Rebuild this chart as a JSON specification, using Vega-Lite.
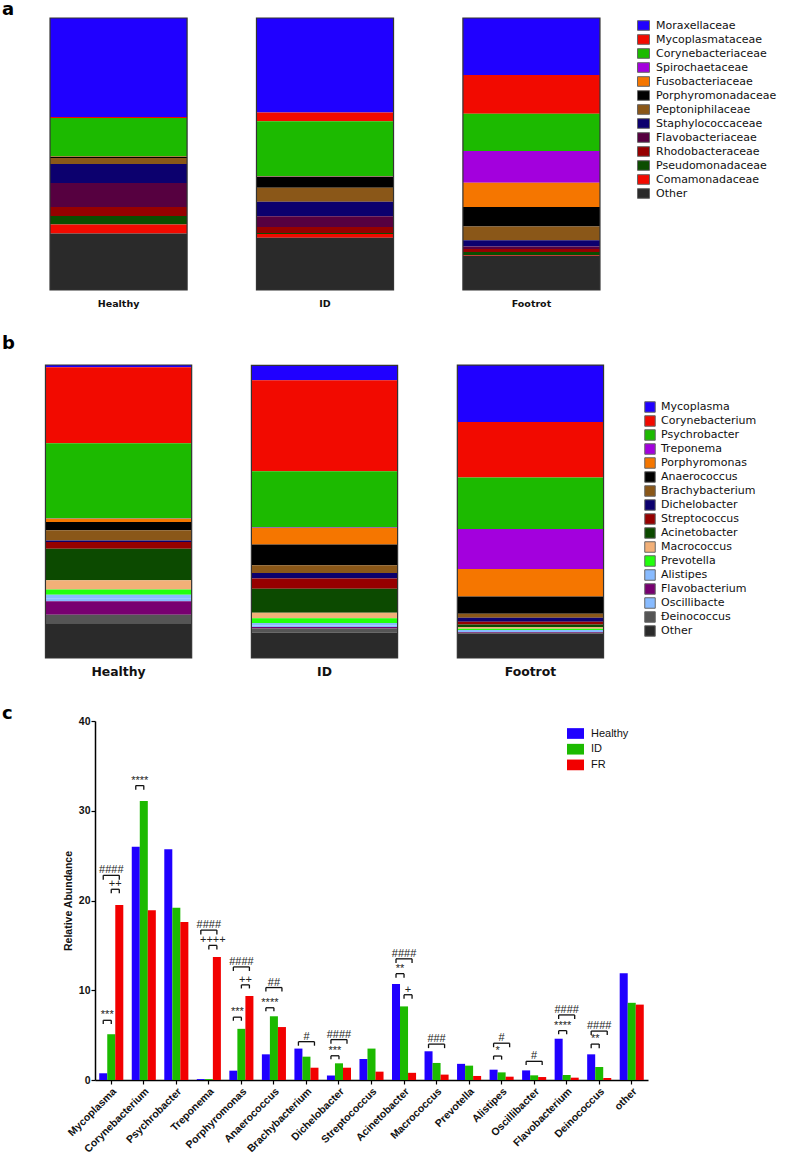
{
  "$schema": "https://vega.github.io/schema/vega-lite/v6.json",
  "background": "white",
  "padding": {"left": 2, "top": 1, "right": 0, "bottom": 0},
  "config": {"view": {"stroke": null}, "font": "DejaVu Sans"},
  "datasets": {
    "fam": [
      {"g": "Healthy", "t": "Moraxellaceae", "k": 1, "v": 36.4},
      {"g": "Healthy", "t": "Mycoplasmataceae", "k": 2, "v": 0.4},
      {"g": "Healthy", "t": "Corynebacteriaceae", "k": 3, "v": 14.0},
      {"g": "Healthy", "t": "Spirochaetaceae", "k": 4, "v": 0.05},
      {"g": "Healthy", "t": "Fusobacteriaceae", "k": 5, "v": 0.2},
      {"g": "Healthy", "t": "Porphyromonadaceae", "k": 6, "v": 0.4},
      {"g": "Healthy", "t": "Peptoniphilaceae", "k": 7, "v": 2.2},
      {"g": "Healthy", "t": "Staphylococcaceae", "k": 8, "v": 7.0},
      {"g": "Healthy", "t": "Flavobacteriaceae", "k": 9, "v": 8.8},
      {"g": "Healthy", "t": "Rhodobacteraceae", "k": 10, "v": 3.3},
      {"g": "Healthy", "t": "Pseudomonadaceae", "k": 11, "v": 3.2},
      {"g": "Healthy", "t": "Comamonadaceae", "k": 12, "v": 3.3},
      {"g": "Healthy", "t": "Other", "k": 13, "v": 20.75},
      {"g": "ID", "t": "Moraxellaceae", "k": 1, "v": 34.7},
      {"g": "ID", "t": "Mycoplasmataceae", "k": 2, "v": 3.3},
      {"g": "ID", "t": "Corynebacteriaceae", "k": 3, "v": 20.2},
      {"g": "ID", "t": "Spirochaetaceae", "k": 4, "v": 0.05},
      {"g": "ID", "t": "Fusobacteriaceae", "k": 5, "v": 0.1},
      {"g": "ID", "t": "Porphyromonadaceae", "k": 6, "v": 4.1},
      {"g": "ID", "t": "Peptoniphilaceae", "k": 7, "v": 5.1},
      {"g": "ID", "t": "Staphylococcaceae", "k": 8, "v": 5.3},
      {"g": "ID", "t": "Flavobacteriaceae", "k": 9, "v": 4.0},
      {"g": "ID", "t": "Rhodobacteraceae", "k": 10, "v": 2.2},
      {"g": "ID", "t": "Pseudomonadaceae", "k": 11, "v": 0.4},
      {"g": "ID", "t": "Comamonadaceae", "k": 12, "v": 1.3},
      {"g": "ID", "t": "Other", "k": 13, "v": 19.25},
      {"g": "Footrot", "t": "Moraxellaceae", "k": 1, "v": 21.0},
      {"g": "Footrot", "t": "Mycoplasmataceae", "k": 2, "v": 14.2},
      {"g": "Footrot", "t": "Corynebacteriaceae", "k": 3, "v": 13.7},
      {"g": "Footrot", "t": "Spirochaetaceae", "k": 4, "v": 11.7},
      {"g": "Footrot", "t": "Fusobacteriaceae", "k": 5, "v": 8.9},
      {"g": "Footrot", "t": "Porphyromonadaceae", "k": 6, "v": 7.2},
      {"g": "Footrot", "t": "Peptoniphilaceae", "k": 7, "v": 5.0},
      {"g": "Footrot", "t": "Staphylococcaceae", "k": 8, "v": 2.3},
      {"g": "Footrot", "t": "Flavobacteriaceae", "k": 9, "v": 0.9},
      {"g": "Footrot", "t": "Rhodobacteraceae", "k": 10, "v": 1.1},
      {"g": "Footrot", "t": "Pseudomonadaceae", "k": 11, "v": 1.1},
      {"g": "Footrot", "t": "Comamonadaceae", "k": 12, "v": 0.3},
      {"g": "Footrot", "t": "Other", "k": 13, "v": 12.6}
    ],
    "genus": [
      {"c": "Mycoplasma", "k": 1, "g": "Healthy", "v": 0.75},
      {"c": "Mycoplasma", "k": 1, "g": "ID", "v": 5.1},
      {"c": "Mycoplasma", "k": 1, "g": "FR", "v": 19.5},
      {"c": "Corynebacterium", "k": 2, "g": "Healthy", "v": 26.0},
      {"c": "Corynebacterium", "k": 2, "g": "ID", "v": 31.1},
      {"c": "Corynebacterium", "k": 2, "g": "FR", "v": 18.9},
      {"c": "Psychrobacter", "k": 3, "g": "Healthy", "v": 25.7},
      {"c": "Psychrobacter", "k": 3, "g": "ID", "v": 19.2},
      {"c": "Psychrobacter", "k": 3, "g": "FR", "v": 17.6},
      {"c": "Treponema", "k": 4, "g": "Healthy", "v": 0.1},
      {"c": "Treponema", "k": 4, "g": "ID", "v": 0.1},
      {"c": "Treponema", "k": 4, "g": "FR", "v": 13.7},
      {"c": "Porphyromonas", "k": 5, "g": "Healthy", "v": 1.04},
      {"c": "Porphyromonas", "k": 5, "g": "ID", "v": 5.7},
      {"c": "Porphyromonas", "k": 5, "g": "FR", "v": 9.36},
      {"c": "Anaerococcus", "k": 6, "g": "Healthy", "v": 2.86},
      {"c": "Anaerococcus", "k": 6, "g": "ID", "v": 7.1},
      {"c": "Anaerococcus", "k": 6, "g": "FR", "v": 5.9},
      {"c": "Brachybacterium", "k": 7, "g": "Healthy", "v": 3.5},
      {"c": "Brachybacterium", "k": 7, "g": "ID", "v": 2.6},
      {"c": "Brachybacterium", "k": 7, "g": "FR", "v": 1.37},
      {"c": "Dichelobacter", "k": 8, "g": "Healthy", "v": 0.5},
      {"c": "Dichelobacter", "k": 8, "g": "ID", "v": 1.86},
      {"c": "Dichelobacter", "k": 8, "g": "FR", "v": 1.37},
      {"c": "Streptococcus", "k": 9, "g": "Healthy", "v": 2.34},
      {"c": "Streptococcus", "k": 9, "g": "ID", "v": 3.5},
      {"c": "Streptococcus", "k": 9, "g": "FR", "v": 0.93},
      {"c": "Acinetobacter", "k": 10, "g": "Healthy", "v": 10.7},
      {"c": "Acinetobacter", "k": 10, "g": "ID", "v": 8.2},
      {"c": "Acinetobacter", "k": 10, "g": "FR", "v": 0.8},
      {"c": "Macrococcus", "k": 11, "g": "Healthy", "v": 3.2},
      {"c": "Macrococcus", "k": 11, "g": "ID", "v": 1.9},
      {"c": "Macrococcus", "k": 11, "g": "FR", "v": 0.6},
      {"c": "Prevotella", "k": 12, "g": "Healthy", "v": 1.8},
      {"c": "Prevotella", "k": 12, "g": "ID", "v": 1.6},
      {"c": "Prevotella", "k": 12, "g": "FR", "v": 0.45},
      {"c": "Alistipes", "k": 13, "g": "Healthy", "v": 1.15},
      {"c": "Alistipes", "k": 13, "g": "ID", "v": 0.85},
      {"c": "Alistipes", "k": 13, "g": "FR", "v": 0.37},
      {"c": "Oscillibacter", "k": 14, "g": "Healthy", "v": 1.07},
      {"c": "Oscillibacter", "k": 14, "g": "ID", "v": 0.52},
      {"c": "Oscillibacter", "k": 14, "g": "FR", "v": 0.33},
      {"c": "Flavobacterium", "k": 15, "g": "Healthy", "v": 4.6},
      {"c": "Flavobacterium", "k": 15, "g": "ID", "v": 0.56},
      {"c": "Flavobacterium", "k": 15, "g": "FR", "v": 0.26},
      {"c": "Deinococcus", "k": 16, "g": "Healthy", "v": 2.86},
      {"c": "Deinococcus", "k": 16, "g": "ID", "v": 1.45},
      {"c": "Deinococcus", "k": 16, "g": "FR", "v": 0.22},
      {"c": "other", "k": 17, "g": "Healthy", "v": 11.9},
      {"c": "other", "k": 17, "g": "ID", "v": 8.6},
      {"c": "other", "k": 17, "g": "FR", "v": 8.4}
    ],
    "brackets": [
      {"c": "Mycoplasma", "s": "***", "a": "Healthy", "b": "ID", "m": "H-ID", "top": 6.65, "drop": 6.25},
      {"c": "Mycoplasma", "s": "++", "a": "ID", "b": "FR", "m": "ID-FR", "top": 21.25, "drop": 20.8},
      {"c": "Mycoplasma", "s": "####", "a": "Healthy", "b": "FR", "m": "ID", "top": 22.8, "drop": 22.3},
      {"c": "Corynebacterium", "s": "****", "a": "Healthy", "b": "ID", "m": "H-ID", "top": 32.8, "drop": 32.35},
      {"c": "Treponema", "s": "####", "a": "Healthy", "b": "FR", "m": "ID", "top": 16.7, "drop": 16.2},
      {"c": "Treponema", "s": "++++", "a": "ID", "b": "FR", "m": "ID-FR", "top": 15.0, "drop": 14.55},
      {"c": "Porphyromonas", "s": "####", "a": "Healthy", "b": "FR", "m": "ID", "top": 12.6, "drop": 12.15},
      {"c": "Porphyromonas", "s": "++", "a": "ID", "b": "FR", "m": "ID-FR", "top": 10.6, "drop": 10.2},
      {"c": "Porphyromonas", "s": "***", "a": "Healthy", "b": "ID", "m": "H-ID", "top": 7.0, "drop": 6.6},
      {"c": "Anaerococcus", "s": "##", "a": "Healthy", "b": "FR", "m": "ID", "top": 10.3, "drop": 9.85},
      {"c": "Anaerococcus", "s": "****", "a": "Healthy", "b": "ID", "m": "H-ID", "top": 8.05, "drop": 7.65},
      {"c": "Brachybacterium", "s": "#", "a": "Healthy", "b": "FR", "m": "ID", "top": 4.27, "drop": 3.82},
      {"c": "Dichelobacter", "s": "####", "a": "Healthy", "b": "FR", "m": "ID", "top": 4.5, "drop": 4.05},
      {"c": "Dichelobacter", "s": "***", "a": "Healthy", "b": "ID", "m": "H-ID", "top": 2.7, "drop": 2.3},
      {"c": "Acinetobacter", "s": "####", "a": "Healthy", "b": "FR", "m": "ID", "top": 13.5, "drop": 13.05},
      {"c": "Acinetobacter", "s": "**", "a": "Healthy", "b": "ID", "m": "H-ID", "top": 11.85, "drop": 11.4},
      {"c": "Acinetobacter", "s": "+", "a": "ID", "b": "FR", "m": "ID-FR", "top": 9.5, "drop": 9.05},
      {"c": "Macrococcus", "s": "###", "a": "Healthy", "b": "FR", "m": "ID", "top": 4.0, "drop": 3.55},
      {"c": "Alistipes", "s": "#", "a": "Healthy", "b": "FR", "m": "ID", "top": 4.1, "drop": 3.65},
      {"c": "Alistipes", "s": "*", "a": "Healthy", "b": "ID", "m": "H-ID", "top": 2.67, "drop": 2.27},
      {"c": "Oscillibacter", "s": "#", "a": "Healthy", "b": "FR", "m": "ID", "top": 2.08, "drop": 1.67},
      {"c": "Flavobacterium", "s": "####", "a": "Healthy", "b": "FR", "m": "ID", "top": 7.25, "drop": 6.8},
      {"c": "Flavobacterium", "s": "****", "a": "Healthy", "b": "ID", "m": "H-ID", "top": 5.5, "drop": 5.1},
      {"c": "Deinococcus", "s": "####", "a": "Healthy", "b": "FR", "m": "ID", "top": 5.45, "drop": 5.0},
      {"c": "Deinococcus", "s": "**", "a": "Healthy", "b": "ID", "m": "H-ID", "top": 4.0, "drop": 3.55}
    ]
  },
  "vconcat": [
    {
      "title": {"text": "a", "anchor": "start", "frame": "group", "fontSize": 18, "fontWeight": "bold", "font": "DejaVu Sans", "dx": -28, "offset": -16, "baseline": "alphabetic", "color": "#000"},
      "width": 590,
      "height": 272,
      "data": {"name": "fam"},
      "encoding": {
        "x": {"field": "g", "type": "nominal", "sort": ["Healthy", "ID", "Footrot"],
          "scale": {"paddingInner": 0.336, "paddingOuter": 0.097},
          "axis": {"title": null, "domain": false, "ticks": false, "labelAngle": 0, "labelFont": "DejaVu Sans", "labelFontWeight": "bold", "labelFontSize": 9.5, "labelPadding": 8, "labelColor": "#111"}}
      },
      "layer": [
        {
          "mark": {"type": "bar"},
          "encoding": {
            "y": {"field": "v", "type": "quantitative", "scale": {"domain": [0, 100], "nice": false}, "axis": null},
            "color": {"field": "t", "type": "nominal",
              "scale": {"domain": ["Moraxellaceae", "Mycoplasmataceae", "Corynebacteriaceae", "Spirochaetaceae", "Fusobacteriaceae", "Porphyromonadaceae", "Peptoniphilaceae", "Staphylococcaceae", "Flavobacteriaceae", "Rhodobacteraceae", "Pseudomonadaceae", "Comamonadaceae", "Other"],
                "range": ["#2000ff", "#f20a00", "#1cba00", "#a300dd", "#f57600", "#000000", "#8a5718", "#0c006e", "#560040", "#960000", "#0c4d00", "#f20a00", "#2a2a2a"]},
              "legend": {"title": null, "orient": "right", "offset": 16, "padding": 1, "symbolType": "M-1,-0.8H1V0.8H-1Z", "symbolSize": 144, "symbolStrokeColor": "#666", "symbolStrokeWidth": 1, "labelFont": "DejaVu Sans", "labelFontSize": 11, "labelColor": "#111", "rowPadding": -3, "labelOffset": 6}},
            "order": {"field": "k", "sort": "descending"}
          }
        },
        {
          "mark": {"type": "bar", "fill": "transparent", "stroke": "#333", "strokeWidth": 1.2},
          "encoding": {
            "y": {"aggregate": "sum", "field": "v", "type": "quantitative"}
          }
        }
      ]
    },
    {
      "title": {"text": "b", "anchor": "start", "frame": "group", "fontSize": 18, "fontWeight": "bold", "font": "DejaVu Sans", "dx": -28, "offset": -3, "baseline": "alphabetic", "color": "#000"},
      "width": 589,
      "height": 293,
      "data": {"name": "genus"},
      "encoding": {
        "x": {"field": "g", "type": "nominal", "sort": ["Healthy", "ID", "FR"],
          "scale": {"paddingInner": 0.29, "paddingOuter": 0.075},
          "axis": {"title": null, "domain": false, "ticks": false, "labelAngle": 0, "labelFont": "DejaVu Sans", "labelFontWeight": "bold", "labelFontSize": 12.4, "labelPadding": 7, "labelColor": "#111",
            "labelExpr": "datum.label == 'FR' ? 'Footrot' : datum.label"}}
      },
      "layer": [
        {
          "mark": {"type": "bar"},
          "encoding": {
            "y": {"field": "v", "type": "quantitative", "scale": {"domain": [0, 100.07], "nice": false}, "axis": null},
            "color": {"field": "c", "type": "nominal",
              "scale": {"domain": ["Mycoplasma", "Corynebacterium", "Psychrobacter", "Treponema", "Porphyromonas", "Anaerococcus", "Brachybacterium", "Dichelobacter", "Streptococcus", "Acinetobacter", "Macrococcus", "Prevotella", "Alistipes", "Flavobacterium", "Oscillibacter", "Deinococcus", "other"],
                "range": ["#2000ff", "#f20a00", "#1cba00", "#a300dd", "#f57600", "#000000", "#8a5718", "#0c006e", "#960000", "#0c4a00", "#f2b078", "#22ff0c", "#88bbff", "#780070", "#88bbff", "#555555", "#2a2a2a"]},
              "legend": {"title": null, "orient": "none", "legendX": 614, "legendY": 36, "padding": 0, "symbolType": "square", "symbolSize": 110, "symbolStrokeColor": "#666", "symbolStrokeWidth": 1, "labelFont": "DejaVu Sans", "labelFontSize": 11, "labelColor": "#111", "rowPadding": -2.7, "labelOffset": 5,
                "labelExpr": "datum.label == 'Oscillibacter' ? 'Oscillibacte' : datum.label == 'Deinococcus' ? 'Ðeinococcus' : datum.label == 'other' ? 'Other' : datum.label"}},
            "order": {"field": "k", "sort": "descending"}
          }
        },
        {
          "mark": {"type": "bar", "fill": "transparent", "stroke": "#333", "strokeWidth": 1.2},
          "encoding": {
            "y": {"aggregate": "sum", "field": "v", "type": "quantitative"}
          }
        }
      ]
    },
    {
      "hconcat": [
        {
          "title": {"text": "c", "anchor": "start", "frame": "group", "fontSize": 18, "fontWeight": "bold", "font": "DejaVu Sans", "dx": -28, "offset": -16, "baseline": "alphabetic", "color": "#000"},
          "width": 1,
          "height": 1,
          "data": {"values": []},
          "mark": {"type": "point", "opacity": 0},
          "encoding": {}
        },
        {
          "width": 553,
          "height": 359,
          "encoding": {
            "x": {"field": "c", "type": "nominal",
              "sort": ["Mycoplasma", "Corynebacterium", "Psychrobacter", "Treponema", "Porphyromonas", "Anaerococcus", "Brachybacterium", "Dichelobacter", "Streptococcus", "Acinetobacter", "Macrococcus", "Prevotella", "Alistipes", "Oscillibacter", "Flavobacterium", "Deinococcus", "other"],
              "scale": {"paddingInner": 0.26, "paddingOuter": 0.13},
              "axis": {"title": null, "labelAngle": -45, "labelFont": "Liberation Sans", "labelFontWeight": "bold", "labelFontSize": 10.5, "labelColor": "#111", "labelPadding": 2, "labelOverlap": false,
                "domainColor": "#000", "domainWidth": 1.5, "tickColor": "#000", "tickWidth": 1.2, "tickSize": 4}}
          },
          "layer": [
            {
              "data": {"name": "genus"},
              "mark": {"type": "bar"},
              "encoding": {
                "xOffset": {"field": "g", "type": "nominal", "sort": ["Healthy", "ID", "FR"], "scale": {"paddingInner": 0, "paddingOuter": 0}},
                "y": {"field": "v", "type": "quantitative",
                  "scale": {"domain": [0, 40], "nice": false},
                  "axis": {"title": "Relative Abundance", "values": [0, 10, 20, 30, 40], "grid": false,
                    "titleFont": "Liberation Sans", "titleFontWeight": "bold", "titleFontSize": 10.5, "titleColor": "#111", "titlePadding": 5,
                    "labelFont": "Liberation Sans", "labelFontWeight": "bold", "labelFontSize": 10.5, "labelColor": "#111", "labelPadding": 1,
                    "domainColor": "#000", "domainWidth": 1.5, "tickColor": "#000", "tickWidth": 1.2, "tickSize": 4}},
                "color": {"field": "g", "type": "nominal",
                  "scale": {"domain": ["Healthy", "ID", "FR"], "range": ["#2000ff", "#1cba00", "#f20000"]},
                  "legend": {"title": null, "orient": "none", "legendX": 472, "legendY": 4, "padding": 0, "symbolType": "M-1,-0.63H1V0.63H-1Z", "symbolSize": 289, "symbolStrokeWidth": 0, "labelFont": "Liberation Sans", "labelFontSize": 11, "labelColor": "#111", "rowPadding": 1.7, "labelOffset": 7}}
              }
            },
            {
              "data": {"name": "brackets"},
              "transform": [{"fold": ["a", "b"], "as": ["end", "p"]}],
              "mark": {"type": "line", "color": "#111", "strokeWidth": 1.3},
              "encoding": {
                "xOffset": {"field": "p", "type": "nominal", "scale": {"type": "point", "domain": ["Healthy", "H-ID", "ID", "ID-FR", "FR"], "padding": 1}},
                "y": {"field": "top", "type": "quantitative"},
                "detail": [{"field": "c"}, {"field": "m"}]
              }
            },
            {
              "data": {"name": "brackets"},
              "transform": [{"fold": ["a", "b"], "as": ["end", "p"]}],
              "mark": {"type": "rule", "color": "#111", "strokeWidth": 1.3},
              "encoding": {
                "xOffset": {"field": "p", "type": "nominal", "scale": {"type": "point", "domain": ["Healthy", "H-ID", "ID", "ID-FR", "FR"], "padding": 1}},
                "y": {"field": "top", "type": "quantitative"},
                "y2": {"field": "drop"}
              }
            },
            {
              "data": {"name": "brackets"},
              "mark": {"type": "text", "font": "Liberation Sans", "fontSize": 11, "color": "#222", "baseline": "alphabetic", "dy": -2},
              "encoding": {
                "xOffset": {"field": "m", "type": "nominal", "scale": {"type": "point", "domain": ["Healthy", "H-ID", "ID", "ID-FR", "FR"], "padding": 1}},
                "y": {"field": "top", "type": "quantitative"},
                "text": {"field": "s"}
              }
            }
          ],
          "resolve": {"scale": {"xOffset": "independent"}}
        }
      ],
      "spacing": 32,
      "resolve": {"scale": {"color": "independent"}, "legend": {"color": "independent"}}
    }
  ],
  "spacing": 27,
  "resolve": {"scale": {"color": "independent"}, "legend": {"color": "independent"}}
}
